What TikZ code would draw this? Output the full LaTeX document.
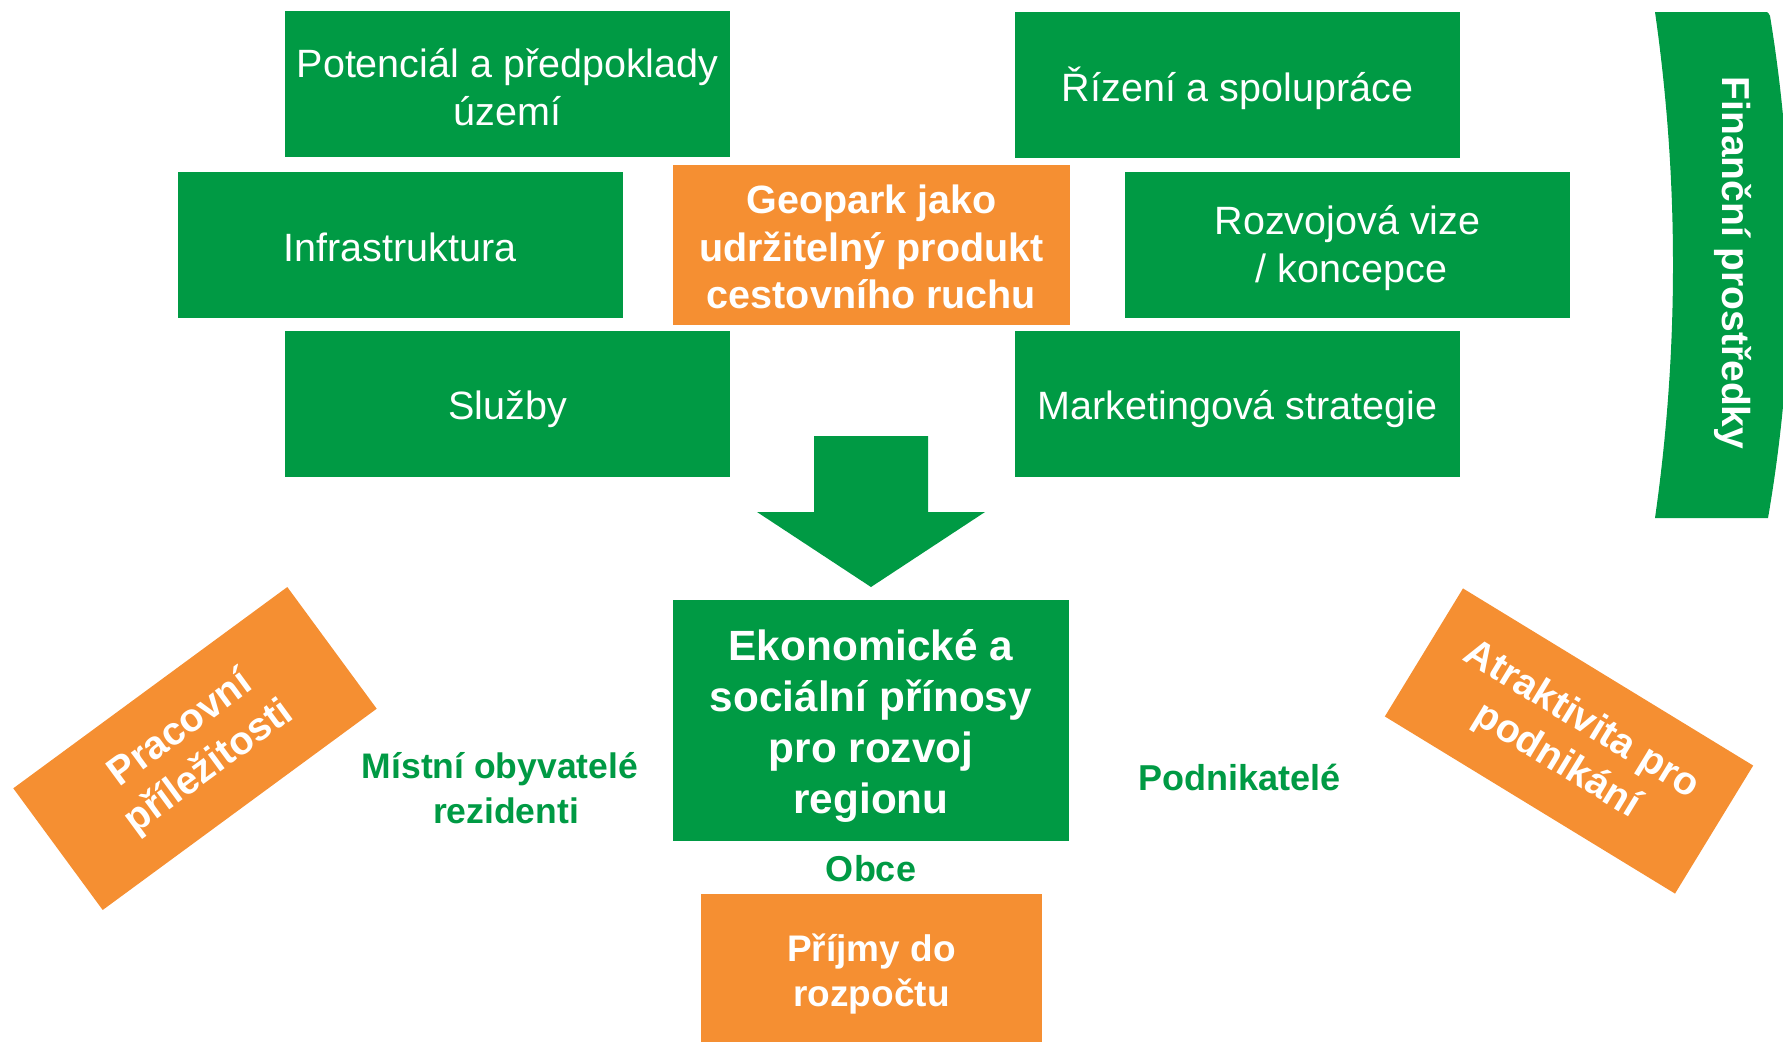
\documentclass[tikz,border=0pt]{standalone}
\usepackage{fontspec}
\setmainfont{Liberation Sans}
\definecolor{grn}{RGB}{0,154,68}
\definecolor{ora}{RGB}{245,143,50}
\begin{document}
\begin{tikzpicture}[x=1pt,y=-1pt,
 gbox/.style={fill=grn,inner sep=0pt,minimum width=445pt,minimum height=146pt},
 obox/.style={fill=ora,inner sep=0pt},
 gtxt/.style={text=white,inner sep=0pt,align=center,font=\fontsize{39.5}{47.7}\selectfont},
 btxt/.style={text=white,inner sep=0pt,align=center,font=\bfseries\fontsize{39.5}{47.7}\selectfont},
 glabel/.style={text=grn,inner sep=0pt,align=center,font=\bfseries\fontsize{36}{45}\selectfont}]
\useasboundingbox (0,0) rectangle (1783,1042);
% top cluster
\node[gbox] (pot) at (507.5,84) {};
\node[gtxt] (pot-t) at ([yshift=-3pt]pot.center) {Potenciál a předpoklady\\území};
\node[gbox] (riz) at (1237.5,84.5) {};
\node[gtxt] (riz-t) at ([yshift=-3.5pt]riz.center) {Řízení a spolupráce};
\node[gbox] (inf) at (400,244.5) {};
\node[gtxt] (inf-t) at ([yshift=-2.5pt]inf.center) {Infrastruktura};
\node[gbox] (roz) at (1347.5,244.5) {};
\node[gtxt] (roz-t) at ([yshift=-3.5pt]roz.center) {Rozvojová vize\\\hspace*{8pt}/ koncepce};
\node[gbox] (slu) at (507.5,404) {};
\node[gtxt] (slu-t) at ([yshift=-5.5pt]slu.center) {Služby};
\node[gbox] (mar) at (1237.5,404) {};
\node[gtxt] (mar-t) at ([yshift=-5.5pt]mar.center) {Marketingová strategie};
\node[obox,minimum width=397pt,minimum height=160pt] (geo) at (871.5,245) {};
\node[btxt] (geo-t) at ([yshift=-2pt]geo.center) {Geopark jako\\udržitelný produkt\\cestovního ruchu};
% finance ribbon
\begin{scope}
\clip (0,0) rectangle (1783,1042);
\fill[grn] (1655,12) -- (1764,12) .. controls (1768,12) .. (1770,16) .. controls (1797,180) and (1797,350) .. (1768,518) -- (1655,518) .. controls (1679,350) and (1679,180) .. (1655,12) -- cycle;
\end{scope}
\node[text=white,inner sep=0pt,rotate=-90,font=\bfseries\fontsize{39}{47}\selectfont] (fin) at (1733,263) {Finanční prostředky};
% big arrow
\fill[grn] (814,436) -- (928,436) -- (928,512) -- (985,512) -- (871,587) -- (757,512) -- (814,512) -- cycle;
% outcome
\node[fill=grn,inner sep=0pt,minimum width=396pt,minimum height=241pt] (eko) at (871,720) {};
\node[btxt,font=\bfseries\fontsize{42.3}{51}\selectfont] (eko-t) at ([yshift=-6pt]eko.center) {Ekonomické a\\sociální přínosy\\pro rozvoj\\regionu};
\node[obox,btxt,minimum width=340pt,minimum height=151pt,rotate=36.3] (prac) at (195,748.5) {Pracovní\\příležitosti};
\node[obox,btxt,minimum width=340pt,minimum height=150pt,rotate=-31.4] (atr) at (1569,741) {Atraktivita pro\\podnikání};
\node[obox,minimum width=341pt,minimum height=148pt] (prij) at (871.5,968) {};
\node[btxt,font=\bfseries\fontsize{37}{45.5}\selectfont] (prij-t) at ([yshift=-6pt]prij.center) {Příjmy do\\rozpočtu};
\node[glabel,font=\bfseries\fontsize{35.5}{45}\selectfont] (mist) at (506,788) {Místní obyvatelé\hspace*{12pt}\\rezidenti};
\node[glabel] (podn) at (1239.5,777) {Podnikatelé};
\node[glabel] (obce) at (871,869) {Obce};
\end{tikzpicture}
\end{document}
